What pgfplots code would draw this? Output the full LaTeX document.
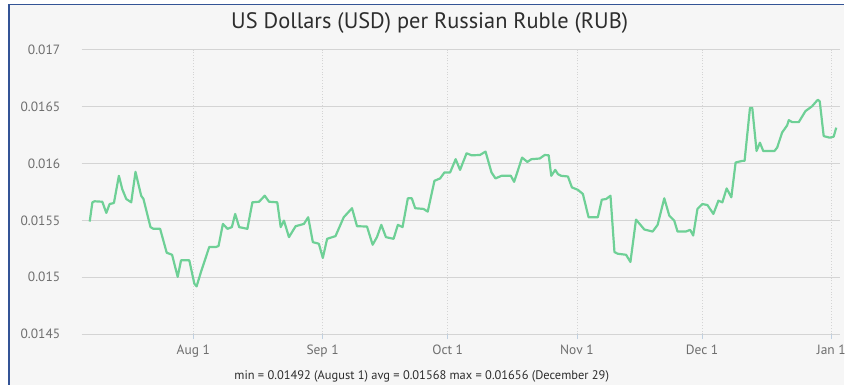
\documentclass[border=0pt]{standalone}
\usepackage{pgfplots}
\pgfplotsset{compat=1.18}
\usepackage{pgfplotstable}
\usepackage{fontspec}
\setmainfont{PT Sans}
\definecolor{bg}{RGB}{246,246,246}
\definecolor{framec}{RGB}{52,84,150}
\definecolor{linec}{RGB}{110,208,150}
\definecolor{gridc}{RGB}{212,212,212}
\definecolor{txt}{RGB}{110,110,110}
\definecolor{titlec}{RGB}{45,45,45}
\pgfplotstableread{
d v
6.15 0.015490
6.80 0.015659
7.34 0.015668
9.18 0.015664
10.14 0.015566
10.93 0.015644
11.96 0.015653
13.15 0.015892
13.96 0.015775
14.92 0.015688
16.11 0.015659
17.14 0.015927
17.93 0.015804
18.50 0.015717
19.05 0.015688
20.73 0.015441
21.44 0.015426
23.04 0.015426
24.62 0.015216
25.91 0.015198
27.25 0.015004
28.06 0.015149
30.04 0.015149
31.24 0.014945
31.79 0.014920
32.84 0.015047
34.82 0.015266
36.42 0.015266
37.05 0.015275
38.10 0.015469
39.20 0.015426
40.25 0.015441
41.04 0.015557
42.00 0.015441
43.97 0.015426
45.17 0.015659
46.77 0.015664
48.13 0.015717
49.16 0.015664
51.14 0.015659
51.96 0.015441
52.74 0.015498
53.94 0.015353
55.54 0.015449
57.52 0.015469
58.55 0.015528
59.67 0.015309
61.11 0.015295
62.06 0.015170
63.09 0.015338
65.10 0.015362
67.08 0.015528
69.06 0.015607
70.26 0.015449
72.65 0.015446
74.01 0.015286
75.04 0.015353
76.09 0.015461
77.19 0.015353
79.03 0.015338
80.06 0.015461
81.18 0.015441
82.45 0.015694
83.40 0.015694
84.21 0.015607
86.20 0.015601
87.22 0.015577
88.83 0.015848
90.19 0.015869
91.22 0.015921
92.58 0.015921
93.92 0.016038
94.97 0.015944
96.54 0.016090
97.74 0.016072
99.75 0.016075
101.08 0.016105
102.52 0.015921
103.47 0.015869
104.91 0.015892
107.15 0.015892
107.94 0.015839
109.85 0.016052
111.12 0.016014
112.08 0.016038
114.08 0.016044
115.28 0.016075
116.23 0.016072
116.85 0.015892
117.81 0.015944
118.46 0.015906
119.24 0.015892
120.84 0.015886
121.80 0.015790
123.23 0.015769
124.43 0.015732
125.79 0.015528
128.01 0.015528
128.97 0.015682
130.00 0.015688
131.05 0.015717
132.00 0.015222
132.79 0.015207
134.78 0.015198
135.83 0.015135
137.17 0.015507
139.17 0.015420
141.16 0.015402
142.35 0.015461
143.95 0.015694
145.15 0.015542
146.34 0.015498
147.13 0.015402
149.11 0.015402
150.16 0.015417
150.88 0.015367
151.91 0.015601
153.10 0.015644
154.30 0.015635
155.73 0.015557
156.93 0.015673
157.88 0.015659
158.91 0.015781
160.03 0.015703
161.06 0.016009
162.66 0.016023
163.21 0.016023
164.50 0.016489
165.05 0.016489
166.08 0.016110
166.89 0.016183
167.68 0.016110
170.38 0.016110
171.02 0.016140
172.22 0.016273
173.41 0.016335
173.82 0.016381
174.61 0.016364
176.21 0.016364
177.79 0.016460
179.39 0.016503
180.75 0.016560
181.23 0.016547
182.18 0.016241
183.61 0.016227
184.57 0.016236
185.19 0.016315
}\rubdata
\begin{document}
\begin{tikzpicture}[x=1pt,y=1pt]
\fill[white] (0,0) rectangle (849,387);
\fill[bg] (9,0) rectangle (849,382.5);
\draw[framec, line width=1.5pt] (9,0) -- (9,382.5) -- (849,382.5);
\node[font=\fontsize{22.5}{25}\selectfont, text=titlec] at (432,364) {US Dollars (USD) per Russian Ruble (RUB)};
\node[font=\fontsize{12.5}{14}\selectfont, text=titlec] at (424,9) {min = 0.01492 (August 1) avg = 0.01568 max = 0.01656 (December 29)};
\begin{axis}[
  at={(82pt,51pt)}, anchor=south west,
  width=763pt, height=286pt, scale only axis,
  xmin=4.2, xmax=186.2, ymin=0.0145, ymax=0.017,
  scaled y ticks=false,
  axis line style={draw=none},
  ytick={0.0145,0.015,0.0155,0.016,0.0165,0.017},
  yticklabels={0.0145,0.015,0.0155,0.016,0.0165,0.017},
  xtick={31,62,92,123,153,184},
  xticklabels={Aug 1,Sep 1,Oct 1,Nov 1,Dec 1,Jan 1},
  ymajorgrids, xmajorgrids,
  y grid style={gridc, line width=1pt},
  x grid style={gridc, line width=0.8pt, dotted},
  ytick style={draw=none},
  xtick style={draw={rgb,255:red,192;green,208;blue,224}, line width=0.8pt},
  tick align=outside, xtick pos=bottom, major tick length=5pt,
  yticklabel style={font=\fontsize{13.5}{15}\selectfont, text=txt, xshift=-13pt},
  xticklabel style={font=\fontsize{13.5}{15}\selectfont, text=txt, yshift=-2pt},
  clip=false,
]
\addplot[linec, line width=2.2pt, line join=round] table[x=d, y=v] {\rubdata};
\end{axis}
\end{tikzpicture}
\end{document}
